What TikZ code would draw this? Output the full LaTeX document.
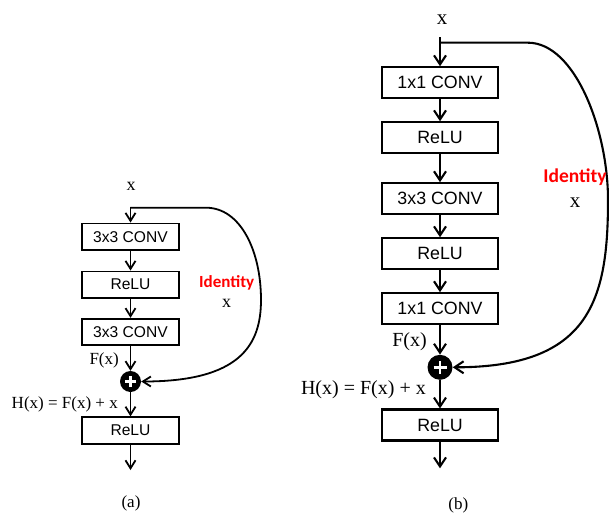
\documentclass[tikz,border=0pt]{standalone}
\usepackage{fontspec}
\setmainfont{Liberation Serif}
\newfontfamily\arialf{Liberation Sans}
\newfontfamily\calib{Carlito}
\usetikzlibrary{arrows.meta}
\begin{document}
\begin{tikzpicture}[x=1pt,y=-1pt,
  boxa/.style={draw, line width=1.8pt, minimum width=97.6pt, minimum height=26.5pt, inner sep=0pt, font=\arialf\fontsize{15.6}{15.6}\selectfont},
  boxb/.style={draw, line width=2.1pt, minimum width=116.6pt, minimum height=31pt, inner sep=0pt, font=\arialf\fontsize{17.8}{17.8}\selectfont},
  arra/.style={line width=1.8pt, -{Straight Barb[length=8pt,width=10pt,line width=1.8pt]}},
  arrb/.style={line width=2.1pt, -{Straight Barb[length=9pt,width=12pt,line width=2.1pt]}},
  plusnode/.style={circle, fill=black, inner sep=0pt},
  labA/.style={font=\fontsize{17}{17}\selectfont, inner sep=0pt},
  labB/.style={font=\fontsize{20}{20}\selectfont, inner sep=0pt},
  xA/.style={font=\fontsize{18}{18}\selectfont, inner sep=0pt},
  xB/.style={font=\fontsize{21}{21}\selectfont, inner sep=0pt},
  idA/.style={text=red, font=\calib\bfseries\fontsize{17}{17}\selectfont, inner sep=0pt},
  idB/.style={text=red, font=\calib\bfseries\fontsize{19.5}{19.5}\selectfont, inner sep=0pt},
  caption/.style={font=\fontsize{17}{17}\selectfont, inner sep=0pt}
]
\useasboundingbox (0,0) rectangle (609,513);

% ---------- (a) ----------
\node[xA] (xa) at (131,186.5) {x};
\coordinate (ta) at (130.5,206.7);
\coordinate (ba) at (130.5,207.7);
\node[boxa] (a1) at (130.5,236.7) {3x3 CONV};
\node[boxa] (a2) at (130.5,284.7) {ReLU};
\node[boxa] (a3) at (130.5,332) {3x3 CONV};
\node[plusnode, minimum size=21pt] (pa) at (130.5,381.5) {};
\draw[white, line width=2.4pt] ([xshift=-5.5pt]pa.center) -- ([xshift=5.5pt]pa.center);
\draw[white, line width=2.4pt] ([yshift=-5.5pt]pa.center) -- ([yshift=5.5pt]pa.center);
\node[boxa] (a4) at (130.5,430.5) {ReLU};
\coordinate (oa) at (130.5,470);

\draw[arra] (ta) -- (a1);
\draw[arra] (a1) -- (a2);
\draw[arra] (a2) -- (a3);
\draw[arra] (a3) -- (pa);
\draw[arra] (pa) -- (a4);
\draw[arra] (a4) -- (oa);
\draw[arra] (ba) -- (206,207.7) .. controls (240,207.7) and (261,250) .. (261,300)
  .. controls (261,345) and (240,381.5) .. (pa.east);

\node[labA, anchor=east] (fa) at (119,360.7) {F(x)};
\node[labA, anchor=east] (ha) at (118,404) {H(x) = F(x) + x};
\node[idA] (ida) at (226.7,282.7) {Identity};
\node[xA] (ixa) at (226.7,303.3) {x};
\node[caption] (capa) at (131,503) {(a)};

% ---------- (b) ----------
\node[xB] (xb) at (442,20) {x};
\coordinate (tb) at (440,37.3);
\coordinate (bb) at (440,42.7);
\node[boxb] (b1) at (440,82.8) {1x1 CONV};
\node[boxb] (b2) at (440,137.8) {ReLU};
\node[boxb] (b3) at (440,198.7) {3x3 CONV};
\node[boxb] (b4) at (440,253.8) {ReLU};
\node[boxb] (b5) at (440,308.7) {1x1 CONV};
\node[plusnode, minimum size=25pt] (pb) at (440,367.3) {};
\draw[white, line width=2.8pt] ([xshift=-6.5pt]pb.center) -- ([xshift=6.5pt]pb.center);
\draw[white, line width=2.8pt] ([yshift=-6.5pt]pb.center) -- ([yshift=6.5pt]pb.center);
\node[boxb] (b6) at (440,425) {ReLU};
\coordinate (ob) at (440,468.3);

\draw[arrb] (tb) -- (b1);
\draw[arrb] (b1) -- (b2);
\draw[arrb] (b2) -- (b3);
\draw[arrb] (b3) -- (b4);
\draw[arrb] (b4) -- (b5);
\draw[arrb] (b5) -- (pb);
\draw[arrb] (pb) -- (b6);
\draw[arrb] (b6) -- (ob);
\draw[arrb] (bb) -- (528,42.7) .. controls (575,42.7) and (608,130) .. (608,200)
  .. controls (608,300) and (590,367.3) .. (pb.east);

\node[labB, anchor=east] (fb) at (427,341.7) {F(x)};
\node[labB, anchor=east] (hb) at (426,389.3) {H(x) = F(x) + x};
\node[idB] (idb) at (575,176.7) {Identity};
\node[xB] (ixb) at (575,202.7) {x};
\node[caption] (capb) at (458.3,505) {(b)};
\end{tikzpicture}
\end{document}
